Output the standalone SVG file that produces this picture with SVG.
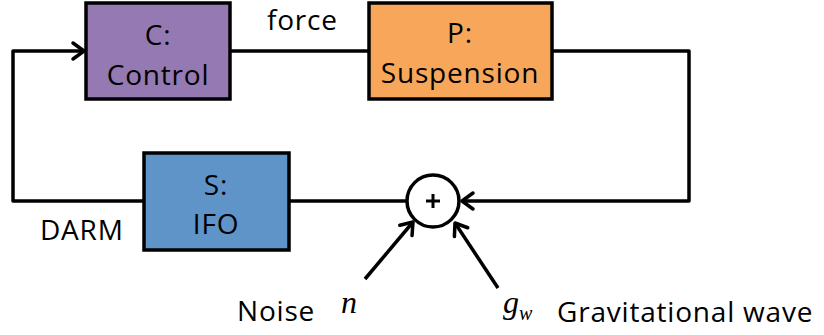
<svg xmlns="http://www.w3.org/2000/svg" width="824" height="335" viewBox="0 0 824 335">
  <style>
    .box { stroke: #000; stroke-width: 3.5; }
    .wire { fill: none; stroke: #000; stroke-width: 3.5; stroke-linejoin: round; }
    .lbl { font-family: "Open Sans", "Liberation Sans", sans-serif; font-size: 28px; letter-spacing: 0.8px; fill: #000; }
    .mid { text-anchor: middle; }
    .math { font-family: "Liberation Serif", "DejaVu Serif", serif; font-style: italic; fill: #000; }
  </style>
  <defs>
    <marker id="chev" markerUnits="userSpaceOnUse" viewBox="-14 -10 16 20" refX="0" refY="0" markerWidth="16" markerHeight="20" orient="auto" overflow="visible">
      <path d="M-11,-8 L0,0 L-11,8" fill="none" stroke="#000" stroke-width="3.5" stroke-linecap="round" stroke-linejoin="round"/>
    </marker>
  </defs>
  <rect width="824" height="335" fill="#fff"/>

  <g id="connectors">
    <path class="wire" d="M144,201 L13,201 L13,51 L84,51" marker-end="url(#chev)"/>
    <path class="wire" d="M230,51 L369,51"/>
    <path class="wire" d="M552,51 L689,51 L689,201 L462,201" marker-end="url(#chev)"/>
    <path class="wire" d="M289,201 L407,201"/>
    <path class="wire" d="M365,279 L413,222" marker-end="url(#chev)"/>
    <path class="wire" d="M498,288 L455,223" marker-end="url(#chev)"/>
  </g>

  <g id="controller">
    <rect class="box" x="86" y="3" width="144" height="96" fill="#9479b2"/>
    <text class="lbl mid" x="158" y="45">C:</text>
    <text class="lbl mid" x="158" y="85">Control</text>
  </g>

  <g id="suspension">
    <rect class="box" x="369" y="3" width="183" height="96" fill="#f8a75a"/>
    <text class="lbl mid" x="460" y="43">P:</text>
    <text class="lbl mid" x="460" y="83">Suspension</text>
  </g>

  <g id="ifo">
    <rect class="box" x="144" y="153" width="145" height="97" fill="#5e94c8"/>
    <text class="lbl mid" x="216" y="195">S:</text>
    <text class="lbl mid" x="216" y="234">IFO</text>
  </g>

  <g id="sum">
    <circle cx="433" cy="201" r="26" fill="#fff" stroke="#000" stroke-width="3.5"/>
    <path d="M426,201 L440,201 M433,194 L433,208" stroke="#000" stroke-width="3"/>
  </g>

  <g id="labels">
    <text class="lbl" x="267" y="30">force</text>
    <text class="lbl" x="40" y="240">DARM</text>
    <text class="lbl" x="237" y="321">Noise</text>
    <text class="math" x="341" y="313" font-size="32">n</text>
    <text class="math" x="503" y="313" font-size="32">g<tspan font-size="20" dy="7">w</tspan></text>
    <text class="lbl" x="557" y="322" letter-spacing="1.1">Gravitational wave</text>
  </g>
</svg>
